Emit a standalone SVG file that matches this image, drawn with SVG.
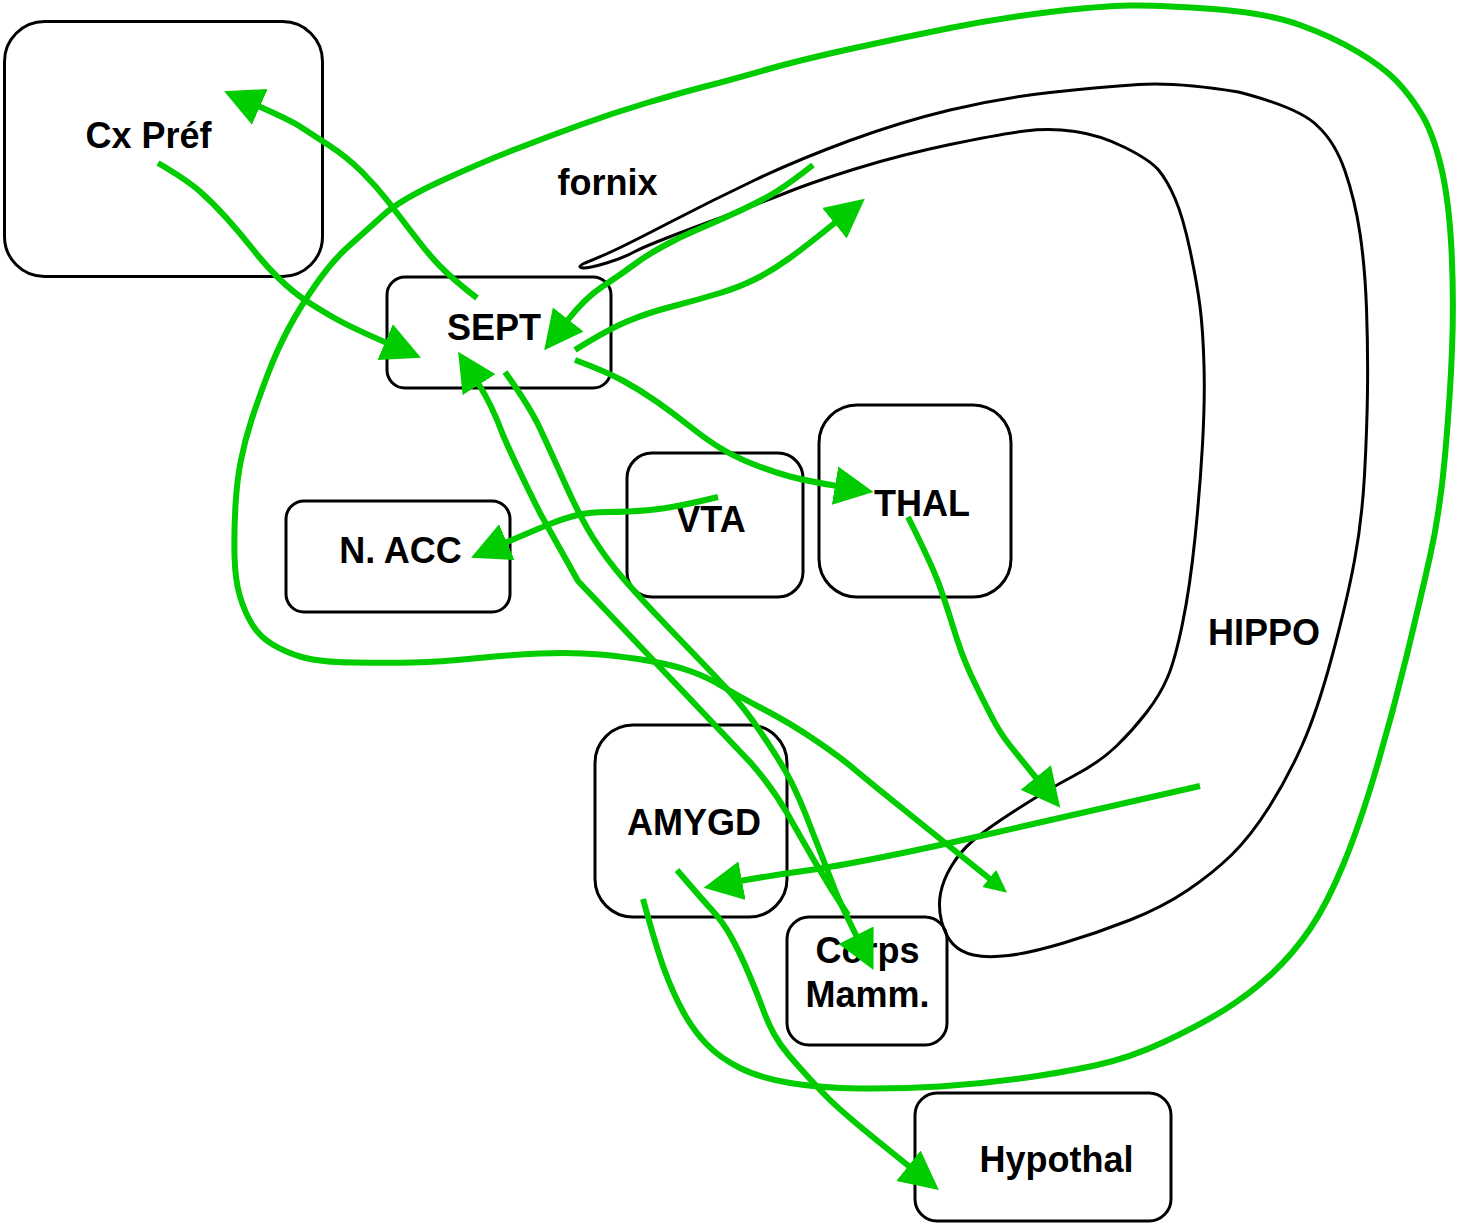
<svg xmlns="http://www.w3.org/2000/svg" width="1460" height="1225" viewBox="0 0 1460 1225">
  <style>
    .box { fill: #ffffff; stroke: #000000; stroke-width: 3; }
    .lbl { font-family: "Liberation Sans", Arial, Helvetica, sans-serif; font-size: 36px; font-weight: bold; fill: #000000; text-anchor: middle; }
    .hippo { fill: none; stroke: #000000; stroke-width: 3; stroke-linejoin: round; }
    .link { fill: none; stroke: #00cc00; stroke-width: 6; stroke-linejoin: round; stroke-linecap: butt; }
    .arrow { marker-end: url(#head); }
    .arrow-sm { marker-end: url(#head-sm); }
  </style>
  <defs>
    <marker id="head" markerUnits="userSpaceOnUse" viewBox="0 0 40 40" markerWidth="40" markerHeight="40" refX="2" refY="20" orient="auto">
      <path d="M0,0.5 L39,20 L0,39.5 Z" fill="#00cc00"/>
    </marker>
    <marker id="head-sm" markerUnits="userSpaceOnUse" viewBox="0 0 24 24" markerWidth="24" markerHeight="24" refX="1" refY="12" orient="auto">
      <path d="M0,1 L23,12 L0,23 Z" fill="#00cc00"/>
    </marker>
  </defs>

  <rect width="1460" height="1225" fill="#ffffff"/>

  <!-- Regions -->
  <g id="node-cxpref">
    <rect class="box" x="4.5" y="21.5" width="318" height="255" rx="40"/>
    <text class="lbl" x="148.5" y="148">Cx Préf</text>
  </g>
  <g id="node-sept">
    <rect class="box" x="387" y="277" width="224" height="111" rx="18"/>
    <text class="lbl" x="494" y="340">SEPT</text>
  </g>
  <g id="node-nacc">
    <rect class="box" x="286" y="501" width="224" height="111" rx="18"/>
    <text class="lbl" x="400.5" y="563">N. ACC</text>
  </g>
  <g id="node-vta">
    <rect class="box" x="627" y="453" width="176" height="144" rx="25"/>
    <text class="lbl" x="711" y="532">VTA</text>
  </g>
  <g id="node-thal">
    <rect class="box" x="819" y="405" width="192" height="192" rx="38"/>
    <text class="lbl" x="922" y="516">THAL</text>
  </g>
  <g id="node-amygd">
    <rect class="box" x="595" y="725" width="192" height="192" rx="38"/>
    <text class="lbl" x="694" y="835">AMYGD</text>
  </g>
  <g id="node-corpsmamm">
    <rect class="box" x="787" y="917" width="160" height="128" rx="22"/>
    <text class="lbl" x="867.5" y="963">Corps</text>
    <text class="lbl" x="867.5" y="1007">Mamm.</text>
  </g>
  <g id="node-hypothal">
    <rect class="box" x="915" y="1093" width="256" height="128" rx="22"/>
    <text class="lbl" x="1056.5" y="1172">Hypothal</text>
  </g>

  <!-- Fornix and hippocampus outline -->
  <g id="node-hippo">
    <path class="hippo" d="M 585,263 Q 600,257 615,250 Q 630,243 671.5,221.5 Q 713,200 755,180 Q 797,160 848.5,141 Q 900,122 950,110 Q 1000,98 1050,92.5 Q 1100,87 1138.5,84.5 Q 1177,82 1238.5,92 Q 1300,108 1317.5,126 Q 1335,142 1345,171 Q 1355,200 1360,233.5 Q 1365,267 1366.5,308.5 Q 1368,350 1367.5,390 Q 1367,430 1364.5,475 Q 1362,520 1354.5,560.5 Q 1347,601 1332,656.5 Q 1317,712 1302,745.5 Q 1287,779 1268.5,808 Q 1250,837 1231.5,855 Q 1213,873 1188,890 Q 1163,907 1130,920 Q 1097,933 1063.5,943 Q 1030,953 1008.5,955.5 Q 987,958 973.5,955 Q 960,952 952.5,943.5 Q 945,935 941.5,921 Q 938,907 940.5,893.5 Q 943,880 951.5,866 Q 960,852 972.5,841 Q 985,830 1016,810 Q 1047,790 1073.5,776 Q 1100,762 1116.5,746 Q 1133,730 1146.5,712.5 Q 1160,695 1167.5,677.5 Q 1175,660 1182.5,623.5 Q 1190,587 1195,538 Q 1200,489 1202.5,444.5 Q 1205,400 1204,365 Q 1203,330 1200,306.5 Q 1197,283 1190,250 Q 1183,217 1175,198.5 Q 1167,180 1158.5,170 Q 1150,160 1125,147.5 Q 1100,135 1075,131.5 Q 1050,128 1025,131 Q 1000,134 950,144.5 Q 900,155 856.5,168.5 Q 813,182 788,192 Q 763,202 705,223.5 Q 647,245 635,251.5 Q 623,258 606.5,263 Q 590,268 583,268 Q 576,267 585,263 Z"/>
    <text class="lbl" x="607.5" y="195">fornix</text>
    <text class="lbl" x="1264" y="645">HIPPO</text>
  </g>

  <!-- Pathways -->
  <g id="connectors">
    <!-- circuit loop around the whole system -->
    <path class="link arrow-sm" d="M 643,899 Q 657,950 665,971.5 Q 673,993 683,1011.5 Q 693,1030 706.5,1044 Q 720,1058 740,1068 Q 760,1078 790,1083 Q 820,1088 860,1088.5 Q 900,1089 940,1086.5 Q 980,1084 1020,1078.5 Q 1060,1073 1095,1065.5 Q 1130,1058 1165,1041.5 Q 1200,1025 1225,1009.5 Q 1250,994 1271.5,974 Q 1293,954 1310,929 Q 1327,904 1343.5,864 Q 1360,824 1376.5,768 Q 1393,712 1406.5,656.5 Q 1420,601 1430,556.5 Q 1440,512 1445,456 Q 1450,400 1452,350 Q 1454,300 1451.5,250 Q 1449,200 1441,166.5 Q 1433,133 1421.5,114 Q 1410,95 1396.5,81 Q 1383,67 1358,52 Q 1333,37 1300,25 Q 1267,13 1213.5,9 Q 1160,5 1130,5.5 Q 1100,6 1050,12 Q 1000,18 950,28 Q 900,38 850,49 Q 800,60 765,70 Q 730,80 705,86.5 Q 680,93 646.5,103 Q 613,113 580,125 Q 547,137 513.5,150 Q 480,163 440,181.5 Q 400,200 383.5,215 Q 367,230 350,245 Q 333,260 316.5,283.5 Q 300,307 288.5,328.5 Q 277,350 267.5,375 Q 258,400 251.5,420 Q 245,440 241,460 Q 237,480 235.5,505 Q 234,530 234.5,555 Q 235,580 240,596.5 Q 245,613 252.5,625 Q 260,637 273.5,645 Q 287,653 303.5,657.5 Q 320,662 353.5,662.5 Q 387,663 413.5,662.5 Q 440,662 473.5,658.5 Q 507,655 540,653.5 Q 573,652 600,654.5 Q 627,657 650,661 Q 673,665 690,671 Q 707,677 723.5,687 Q 740,697 765,710 Q 790,723 815,740 Q 840,757 853.5,768.5 Q 867,780 900,806.5 Q 933,833 990,879"/>
    <!-- Cx Préf to SEPT -->
    <path class="link arrow" d="M 158,163 Q 187,180 200,191.5 Q 213,203 226.5,218 Q 240,233 253.5,250 Q 267,267 280,279.5 Q 293,292 305,300 Q 317,308 333.5,317.5 Q 350,327 387,343"/>
    <!-- SEPT to Cx Préf -->
    <path class="link arrow" d="M 477,298 Q 460,285 446.5,272.5 Q 433,260 416.5,238.5 Q 400,217 388.5,202 Q 377,187 362,172 Q 347,157 328.5,145 Q 310,133 300,126.5 Q 290,120 258,106"/>
    <!-- fornix to SEPT -->
    <path class="link arrow" d="M 813,165 Q 790,183 776.5,191.5 Q 763,200 741.5,210 Q 720,220 700,228.5 Q 680,237 663.5,246 Q 647,255 633.5,265 Q 620,275 602.5,286.5 Q 585,298 567,321"/>
    <!-- SEPT to fornix -->
    <path class="link arrow" d="M 575,350 Q 607,330 627,321.5 Q 647,313 672,306.5 Q 697,300 718.5,293.5 Q 740,287 756.5,278.5 Q 773,270 789,258.5 Q 805,247 836,222"/>
    <!-- SEPT to THAL -->
    <path class="link arrow" d="M 575,360 Q 607,372 623.5,381 Q 640,390 656.5,401.5 Q 673,413 690,426.5 Q 707,440 721,448.5 Q 735,457 754,464.5 Q 773,472 790,476.5 Q 807,481 837,486"/>
    <!-- VTA to N. ACC -->
    <path class="link arrow" d="M 718,497 Q 673,508 650,510 Q 627,512 608.5,512 Q 590,512 577.5,515 Q 565,518 550,524 Q 535,530 505,543"/>
    <!-- SEPT to Corps Mamm. -->
    <path class="link arrow" d="M 505,372 Q 530,407 540,428.5 Q 550,450 565,483.5 Q 580,517 593.5,538.5 Q 607,560 624.5,580 Q 642,600 666,625 Q 690,650 714,675 Q 738,700 751.5,719 Q 765,738 776,755.5 Q 787,773 793.5,786.5 Q 800,800 806.5,816.5 Q 813,833 820.5,852.5 Q 828,872 834,887.5 Q 840,903 857,937"/>
    <!-- Corps Mamm. to SEPT -->
    <path class="link arrow" d="M 848,915 Q 830,888 815,862 Q 800,836 787,813 Q 772,787 750,762 L 578,581 L 540,513 Q 515,463 503,435 Q 492,405 478,383"/>
    <!-- THAL to HIPPO -->
    <path class="link arrow" d="M 908,517 Q 933,567 940,587 Q 947,607 952,623.5 Q 957,640 962,653.5 Q 967,667 975,683.5 Q 983,700 991.5,716.5 Q 1000,733 1010,745.5 Q 1020,758 1037,779"/>
    <!-- HIPPO to AMYGD -->
    <path class="link arrow" d="M 1200,786 Q 1050,820 991.5,833.5 Q 933,847 883,857 Q 833,867 800,871.5 Q 767,876 740,881"/>
    <!-- AMYGD to Hypothal -->
    <path class="link arrow" d="M 677,870 Q 700,897 711.5,909.5 Q 723,922 731.5,937.5 Q 740,953 748.5,973 Q 757,993 762.5,1008 Q 768,1023 774,1034 Q 780,1045 789.5,1056 Q 799,1067 809.5,1078.5 Q 820,1090 828.5,1098.5 Q 837,1107 853.5,1121 Q 870,1135 910,1167"/>
  </g>
</svg>
